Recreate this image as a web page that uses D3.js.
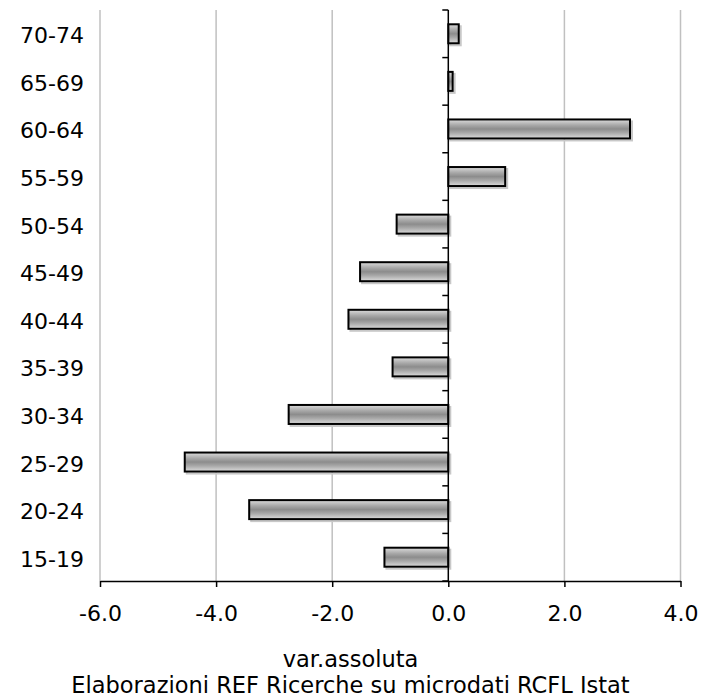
<!DOCTYPE html>
<html>
<head>
<meta charset="utf-8">
<script src="https://cdn.jsdelivr.net/npm/d3@7"></script>
<style>
  body { margin: 0; background: #fff; }
  text { font-family: "DejaVu Sans", Verdana, sans-serif; fill: #000; }
</style>
</head>
<body>
<script>
var ageGroups = ["15-19", "20-24", "25-29", "30-34", "35-39", "40-44",
                 "45-49", "50-54", "55-59", "60-64", "65-69", "70-74"];
var varAssoluta = [-1.1, -3.43, -4.54, -2.75, -0.96, -1.72,
                   -1.52, -0.89, 0.98, 3.13, 0.075, 0.18];
var xTicks = [-6, -4, -2, 0, 2, 4];
var axisTitle = "var.assoluta";
var sourceNote = "Elaborazioni REF Ricerche su microdati RCFL Istat";

var width = 701, height = 698;
var svg = d3.select("body").append("svg")
    .attr("width", width)
    .attr("height", height);

var x = d3.scaleLinear().domain([-6, 4]).range([100, 680.5]);
var y = d3.scaleBand()
    .domain(ageGroups.slice().reverse())
    .range([10, 581])
    .paddingInner(0.6)
    .paddingOuter(0.3);
var bandTop = 10;

var defs = svg.append("defs");
var grad = defs.append("linearGradient")
    .attr("id", "barfill")
    .attr("x1", 0).attr("y1", 0).attr("x2", 0).attr("y2", 1);
[[0, "#dcdcdc"], [0.3, "#a8a8a8"], [0.5, "#8c8c8c"], [0.7, "#a8a8a8"], [1, "#dcdcdc"]]
  .forEach(function(s) {
    grad.append("stop").attr("offset", s[0]).attr("stop-color", s[1]);
  });

// vertical grid lines
svg.append("g")
  .selectAll("line")
  .data(xTicks.filter(function(d) { return d !== 0; }))
  .join("line")
    .attr("x1", function(d) { return x(d); })
    .attr("x2", function(d) { return x(d); })
    .attr("y1", 10)
    .attr("y2", 581)
    .attr("stroke", "#c0c0c0")
    .attr("stroke-width", 1.5);

// bar shadows
var bh = 19;
svg.append("g")
  .selectAll("rect")
  .data(ageGroups)
  .join("rect")
    .attr("x", function(d, i) { return Math.min(x(0), x(varAssoluta[i])) + 2; })
    .attr("y", function(d) { return y(d) + y.bandwidth() / 2 - bh / 2 + 2; })
    .attr("width", function(d, i) { return Math.abs(x(varAssoluta[i]) - x(0)); })
    .attr("height", bh)
    .attr("fill", "none")
    .attr("stroke", "#c8c8c8")
    .attr("stroke-width", 2);

// bars
svg.append("g")
  .selectAll("rect")
  .data(ageGroups)
  .join("rect")
    .attr("x", function(d, i) { return Math.min(x(0), x(varAssoluta[i])); })
    .attr("y", function(d) { return y(d) + y.bandwidth() / 2 - bh / 2; })
    .attr("width", function(d, i) { return Math.abs(x(varAssoluta[i]) - x(0)); })
    .attr("height", bh)
    .attr("fill", "url(#barfill)")
    .attr("stroke", "#000")
    .attr("stroke-width", 2);

// x axis
var xAxis = svg.append("g")
    .attr("transform", "translate(0,581)")
    .call(d3.axisBottom(x).tickValues(xTicks)
      .tickFormat(function(d) { return d.toFixed(1); })
      .tickSize(6).tickSizeOuter(0).tickPadding(18));
xAxis.select(".domain").attr("stroke", "#000").attr("stroke-width", 1.5);
xAxis.selectAll(".tick line").attr("stroke", "#000").attr("stroke-width", 1.5);
xAxis.selectAll("text")
    .style("font-size", "22px")
    .style("font-family", "'DejaVu Sans', Verdana, sans-serif")
    .attr("fill", "#000");

// y axis at zero, ticks between categories
var yLine = svg.append("g");
yLine.append("line")
    .attr("x1", x(0)).attr("x2", x(0))
    .attr("y1", 10).attr("y2", 581)
    .attr("stroke", "#000").attr("stroke-width", 1.5);
yLine.selectAll("line.tk")
  .data(d3.range(ageGroups.length + 1))
  .join("line")
    .attr("class", "tk")
    .attr("x1", x(0) - 6).attr("x2", x(0))
    .attr("y1", function(i) { return bandTop + i * (571 / ageGroups.length); })
    .attr("y2", function(i) { return bandTop + i * (571 / ageGroups.length); })
    .attr("stroke", "#000").attr("stroke-width", 1.5);

// category labels
svg.append("g")
  .selectAll("text")
  .data(ageGroups)
  .join("text")
    .attr("x", 84)
    .attr("y", function(d) { return y(d) + y.bandwidth() / 2 + 9.5; })
    .attr("text-anchor", "end")
    .style("font-size", "22px")
    .text(function(d) { return d; });

svg.append("text")
    .attr("x", width / 2)
    .attr("y", 667)
    .attr("text-anchor", "middle")
    .style("font-size", "22.5px")
    .text(axisTitle);

svg.append("text")
    .attr("x", width / 2)
    .attr("y", 693)
    .attr("text-anchor", "middle")
    .style("font-size", "22.5px")
    .text(sourceNote);
</script>
</body>
</html>
